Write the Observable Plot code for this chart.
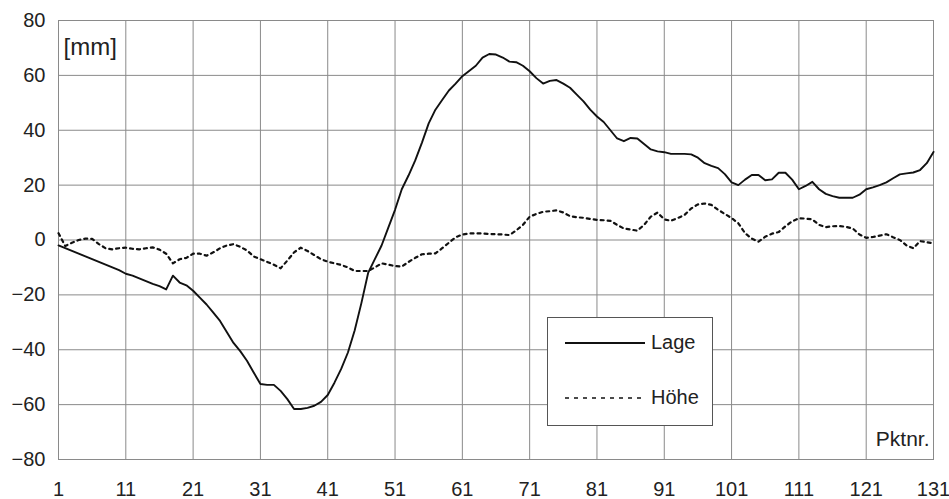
<!DOCTYPE html>
<html>
<head>
<meta charset="utf-8">
<script src="https://cdn.jsdelivr.net/npm/d3@7"></script>
<script src="https://cdn.jsdelivr.net/npm/@observablehq/plot@0.6"></script>
<style>
  html, body { margin: 0; padding: 0; background: #fff; }
  #wrap { position: relative; width: 949px; height: 499px; font-family: "Liberation Sans", Arial, sans-serif; }
  #legend { position: absolute; left: 547px; top: 317px; width: 166px; height: 109px; border: 1px solid #555; background: #fff; box-sizing: border-box; }
  #legend .row { position: absolute; left: 17px; display: flex; align-items: center; font-size: 20px; color: #222; }
  #legend svg { display: block; margin-right: 6px; }
</style>
</head>
<body>
<div id="wrap">
  <div id="chart"></div>
  <div id="legend">
    <div class="row" style="top: 13px;"><svg width="80" height="4"><line x1="0" y1="2" x2="80" y2="2" stroke="#111" stroke-width="2"/></svg>Lage</div>
    <div class="row" style="top: 68px;"><svg width="80" height="4"><line x1="0" y1="2" x2="80" y2="2" stroke="#111" stroke-width="1.6" stroke-dasharray="4,5"/></svg>Höhe</div>
  </div>
</div>
<script>
const lage = [
  -2, -3, -4, -5, -6, -7, -8, -9, -10, -11,
  -12.3, -13, -14, -15, -16, -16.8, -18, -13, -15.5, -16.5,
  -18.5, -21, -23.5, -26.5, -29.5, -33.5, -37.5, -40.5, -44, -48.3,
  -52.5, -52.8, -52.8, -55, -58, -61.6, -61.6, -61.2, -60.4, -59,
  -56.5, -52, -47, -41, -33, -23, -12, -7, -2, 4.5,
  11, 18.5, 23.5, 29, 35.5, 42.5, 47.5, 51, 54.5, 57,
  59.7, 61.6, 63.5, 66.5, 67.8, 67.6, 66.5, 65, 64.8, 63.5,
  61.5, 59, 57, 58, 58.3, 57, 55.5, 53, 50.5, 47.5,
  45, 43, 40, 37, 36, 37.2, 37, 35, 33, 32.3,
  32, 31.4, 31.4, 31.4, 31.2, 30, 28, 27, 26.2, 24,
  21, 20, 22, 23.7, 23.7, 21.8, 22.1, 24.5, 24.5, 22,
  18.5, 19.7, 21.2, 18.5, 16.8, 16, 15.4, 15.4, 15.4, 16.5,
  18.5, 19.2, 20, 21, 22.5, 23.9, 24.3, 24.6, 25.5, 28,
  32.1
];
const hoehe = [
  2.5, -2.2, -1, 0, 0.5, 0.4, -1.5, -3, -3.4, -3,
  -2.8, -3.2, -3.4, -3, -2.7, -3.5, -5, -8.5, -7, -6.5,
  -5, -5, -5.7, -4.5, -3, -2, -1.5, -2.5, -3.8, -6,
  -7, -8, -9, -10.3, -7.5, -4.5, -2.8, -4, -5.5, -7,
  -7.9, -8.5, -9.1, -10, -11.3, -11.3, -11.3, -10, -8.5, -9,
  -9.5, -9.7, -8, -6.5, -5.2, -5, -4.9, -3, -1, 1,
  2, 2.4, 2.4, 2.4, 2.2, 2.1, 2, 1.8, 3.5, 5.5,
  8.5, 9.5, 10.3, 10.5, 10.8, 10, 8.7, 8.3, 8.1, 7.7,
  7.3, 7.2, 7, 5.5, 4.2, 3.8, 3.4, 5.5, 8.5, 10,
  7.5, 7, 8, 9.1, 11.5, 13, 13.3, 12.8, 11, 9.5,
  8, 6.1, 2.5, 0.5, -0.6, 1.2, 2.3, 2.9, 5, 6.8,
  7.9, 7.8, 7.5, 5.5, 4.7, 5, 5.1, 4.8, 4.2, 2,
  0.8, 1.1, 1.6, 2.1, 1, 0, -2, -3, -0.4, -0.8,
  -1.2
];
const xTicks = [1, 11, 21, 31, 41, 51, 61, 71, 81, 91, 101, 111, 121, 131];
const yTicks = [-80, -60, -40, -20, 0, 20, 40, 60, 80];
const yUnit = "[mm]";
const xUnit = "Pktnr.";

const lageData = lage.map((v, i) => ({n: i + 1, v}));
const hoeheData = hoehe.map((v, i) => ({n: i + 1, v}));

const chart = Plot.plot({
  width: 949,
  height: 499,
  marginLeft: 58,
  marginRight: 16,
  marginTop: 20,
  marginBottom: 40,
  style: {fontFamily: "'Liberation Sans', Arial, sans-serif", fontSize: "20px", color: "#222", background: "#fff"},
  x: {domain: [1, 131], ticks: xTicks, tickSize: 0, tickPadding: 22, label: null},
  y: {domain: [-80, 80], ticks: yTicks, tickSize: 0, tickPadding: 13, label: null},
  marks: [
    Plot.gridX(xTicks, {stroke: "#8a8a8a", strokeOpacity: 1, strokeWidth: 1}),
    Plot.gridY(yTicks, {stroke: "#8a8a8a", strokeOpacity: 1, strokeWidth: 1}),
    Plot.frame({stroke: "#8a8a8a", strokeWidth: 1}),
    Plot.line(hoeheData, {x: "n", y: "v", stroke: "#111", strokeWidth: 2.2, strokeDasharray: "3,4"}),
    Plot.line(lageData, {x: "n", y: "v", stroke: "#111", strokeWidth: 1.9}),
    Plot.text([yUnit], {frameAnchor: "top-left", dx: 5, dy: 17, fontSize: 24, fill: "#222", textAnchor: "start"}),
    Plot.text([xUnit], {frameAnchor: "bottom-right", dx: -4, dy: -14, fontSize: 21, fill: "#222", textAnchor: "end", lineAnchor: "bottom"})
  ]
});
document.getElementById("chart").appendChild(chart);
</script>
</body>
</html>
